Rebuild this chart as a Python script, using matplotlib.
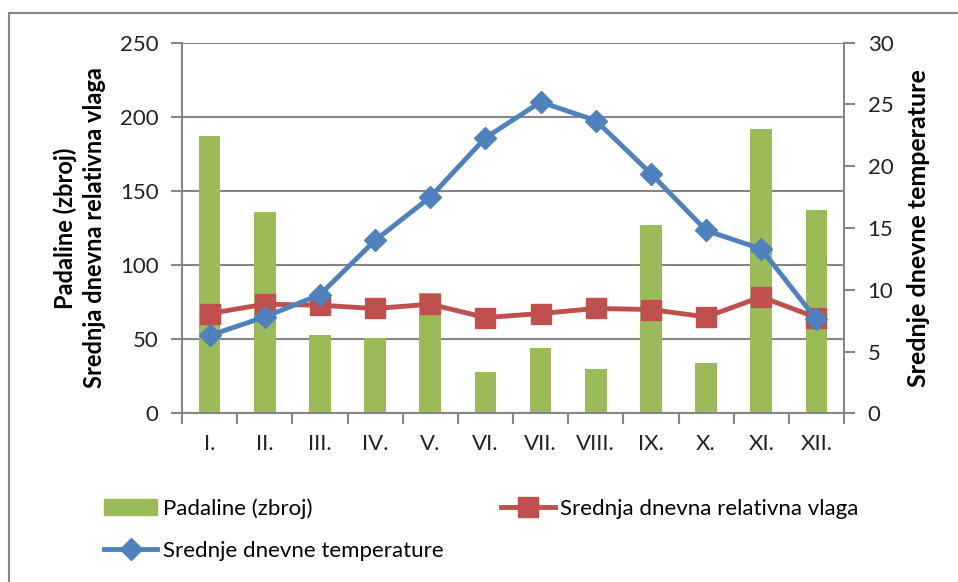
import matplotlib.pyplot as plt
from matplotlib.patches import Rectangle
from matplotlib.lines import Line2D
import numpy as np

plt.rcParams['font.family'] = ['Lato', 'DejaVu Sans']

# monthly climate data
months = ['I.', 'II.', 'III.', 'IV.', 'V.', 'VI.', 'VII.', 'VIII.', 'IX.', 'X.', 'XI.', 'XII.']
padaline = [187, 136, 53, 51, 81, 28, 44, 30, 127, 34, 192, 137]
vlaga = [67.3, 73.6, 72.9, 70.7, 73.6, 64.6, 67.3, 70.7, 70.0, 65.0, 78.5, 64.6]
temperatura = [6.3, 7.8, 9.6, 14.0, 17.5, 22.3, 25.2, 23.7, 19.4, 14.8, 13.3, 7.6]

green = '#9BBB59'
red = '#C0504D'
blue = '#4F81BD'
grey = '#868686'

fig = plt.figure(figsize=(9.58, 5.82), dpi=100)
fig.patches.append(Rectangle((9 / 958, -0.1), 1.2, (582 - 13) / 582 + 0.1,
                             transform=fig.transFigure, fill=False,
                             edgecolor=grey, linewidth=1.5))

ax = fig.add_axes([182 / 958, 1 - 413.3 / 582, (844 - 182) / 958, (413.3 - 42.7) / 582])
x = np.arange(len(months))

ax.bar(x, padaline, width=0.39, color=green, zorder=2)
ax.plot(x, vlaga, color=red, linewidth=3.5, marker='s', markersize=15, zorder=3)

ax.set_ylim(0, 250)
ax.set_yticks(range(0, 251, 50))
ax.set_xlim(-0.5, 11.5)
ax.set_xticks(np.arange(-0.5, 12, 1))
ax.set_xticklabels([])
ax.set_xticks(x, minor=True)
ax.set_xticklabels(months, minor=True)
ax.tick_params(axis='x', which='minor', length=0, pad=15, labelsize=16, colors='#222222')
ax.tick_params(axis='x', which='major', length=8, width=1.5, color=grey)
ax.tick_params(axis='y', length=8, width=1.5, color=grey, labelsize=16, pad=9, labelcolor='#222222')
ax.yaxis.grid(True, color=grey, linewidth=1.5, zorder=0)
ax.set_axisbelow(True)
for s in ['top', 'right']:
    ax.spines[s].set_visible(False)
for s in ['left', 'bottom']:
    ax.spines[s].set_color(grey)
    ax.spines[s].set_linewidth(1.5)
ax.set_ylabel('Padaline (zbroj)\nSrednja dnevna relativna vlaga', fontsize=17,
              fontweight='bold', labelpad=10, linespacing=1.3)

ax2 = ax.twinx()
ax2.plot(x, temperatura, color=blue, linewidth=3.5, marker='D', markersize=11, zorder=4)
ax2.set_ylim(0, 30)
ax2.set_yticks(range(0, 31, 5))
ax2.tick_params(axis='y', length=8, width=1.5, color=grey, labelsize=16, pad=9, labelcolor='#222222')
for s in ['top', 'left', 'bottom']:
    ax2.spines[s].set_visible(False)
ax2.spines['right'].set_color(grey)
ax2.spines['right'].set_linewidth(1.5)
ax2.set_ylabel('Srednje dnevne temperature', fontsize=18, fontweight='bold',
               rotation=90, labelpad=10)

handles = [
    Rectangle((0, 0), 1, 1, color=green),
    Line2D([], [], color=blue, linewidth=3.5, marker='D', markersize=11),
    Line2D([], [], color=red, linewidth=3.5, marker='s', markersize=15),
]
labels = ['Padaline (zbroj)', 'Srednje dnevne temperature', 'Srednja dnevna relativna vlaga']
fig.legend(handles, labels, ncol=2, loc='upper left',
           bbox_to_anchor=(84 / 958, 1 - 478 / 582), frameon=False,
           fontsize=16, handlelength=2.4, handletextpad=0.25,
           columnspacing=2.6, labelspacing=1.0)

fig.savefig('out.png', dpi=100)
